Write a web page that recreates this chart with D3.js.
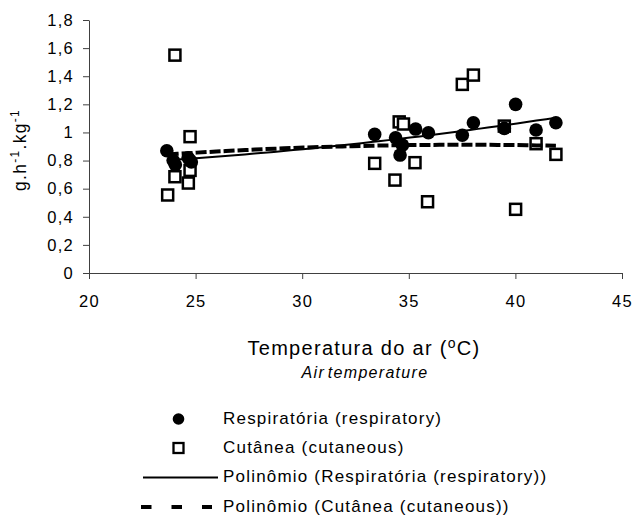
<!DOCTYPE html>
<html><head><meta charset="utf-8">
<script src="https://cdn.jsdelivr.net/npm/d3@7"></script>
<style>
body{margin:0;background:#fff}
svg text{font-family:"Liberation Sans",Arial,sans-serif;fill:#000}
</style>
</head><body>
<svg id="c" width="635" height="517"></svg>
<script>
// Respiratória (respiratory)
const respX = [23.65, 23.95, 24.05, 24.65, 24.8, 24.75, 33.4, 34.38, 34.7, 34.59, 35.32, 35.92, 37.51, 38.03, 39.48, 40.01, 40.97, 41.9];
const respY = [0.87, 0.80, 0.77, 0.82, 0.79, 0.80, 0.986, 0.962, 0.91, 0.839, 1.024, 0.998, 0.98, 1.069, 1.029, 1.20, 1.017, 1.069];
// Cutânea (cutaneous)
const cutX = [23.69, 24.03, 24.03, 24.66, 24.74, 24.74, 33.4, 34.35, 34.55, 34.75, 35.29, 35.88, 37.51, 38.03, 39.48, 40.01, 40.97, 41.9];
const cutY = [0.555, 1.55, 0.685, 0.64, 0.73, 0.97, 0.78, 0.661, 1.075, 1.06, 0.785, 0.507, 1.342, 1.408, 1.045, 0.453, 0.92, 0.844];

const xTicks = [20, 25, 30, 35, 40, 45];
const yTicks = [0, 0.2, 0.4, 0.6, 0.8, 1, 1.2, 1.4, 1.6, 1.8];
const yTickLabels = ["0", "0,2", "0,4", "0,6", "0,8", "1", "1,2", "1,4", "1,6", "1,8"];
const legendLabels = ["Respiratória (respiratory)", "Cutânea (cutaneous)", "Polinômio (Respiratória (respiratory))", "Polinômio (Cutânea (cutaneous))"];

const svg = d3.select("#c");
const x = d3.scaleLinear().domain([20, 45]).range([89, 622]);
const y = d3.scaleLinear().domain([0, 1.8]).range([273, 20]);
const axisColor = "#404040";

// quadratic least-squares fit (Excel "Polinômio" trend line, order 2)
function polyFit(xs, ys) {
  let S = [0,0,0,0,0], T = [0,0,0];
  xs.forEach((xv, i) => {
    let p = 1;
    for (let k = 0; k < 5; k++) { S[k] += p; if (k < 3) T[k] += p * ys[i]; p *= xv; }
  });
  const A = [[S[0],S[1],S[2],T[0]],[S[1],S[2],S[3],T[1]],[S[2],S[3],S[4],T[2]]];
  for (let i = 0; i < 3; i++) {
    for (let j = i + 1; j < 3; j++) {
      const f = A[j][i] / A[i][i];
      for (let k = i; k < 4; k++) A[j][k] -= f * A[i][k];
    }
  }
  const c = [0,0,0];
  for (let i = 2; i >= 0; i--) {
    let s = A[i][3];
    for (let k = i + 1; k < 3; k++) s -= A[i][k] * c[k];
    c[i] = s / A[i][i];
  }
  return v => c[0] + c[1] * v + c[2] * v * v;
}

// axes
const gx = svg.append("g").attr("transform", `translate(0,${y(0)})`)
  .call(d3.axisBottom(x).tickValues(xTicks).tickSize(6).tickSizeOuter(0).tickPadding(16).tickFormat(d => String(d)));
const gy = svg.append("g").attr("transform", `translate(${x(20)},0)`)
  .call(d3.axisLeft(y).tickValues(yTicks).tickSize(6).tickSizeOuter(0).tickPadding(9).tickFormat((d, i) => yTickLabels[i]));
[gx, gy].forEach(g => {
  g.selectAll("path,line").attr("stroke", axisColor).attr("stroke-width", 1);
  g.selectAll("text").attr("font-family", null).style("font-size", "16.5px").style("letter-spacing", "1.3px").attr("fill", "#000");
});

// markers: squares then circles
const sq = 11;
svg.append("g").selectAll("rect").data(cutX).join("rect")
  .attr("x", (d) => x(d) - sq / 2).attr("y", (d, i) => y(cutY[i]) - sq / 2)
  .attr("width", sq).attr("height", sq)
  .attr("fill", "#fff").attr("stroke", "#000").attr("stroke-width", 2.5);
svg.append("g").selectAll("circle").data(respX).join("circle")
  .attr("cx", d => x(d)).attr("cy", (d, i) => y(respY[i])).attr("r", 6.8).attr("fill", "#000");

// trend lines
function trend(xs, ys) {
  const f = polyFit(xs, ys);
  const lo = d3.min(xs), hi = d3.max(xs);
  return d3.range(0, 41).map(k => { const v = lo + (hi - lo) * k / 40; return [v, f(v)]; });
}
const line = d3.line().x(d => x(d[0])).y(d => y(d[1]));
svg.append("path").datum(trend(respX, respY)).attr("d", line)
  .attr("fill", "none").attr("stroke", "#000").attr("stroke-width", 2);
svg.append("path").datum(trend(cutX, cutY)).attr("d", line)
  .attr("fill", "none").attr("stroke", "#000").attr("stroke-width", 4).attr("stroke-dasharray", "11,3");

// y-axis title
const yt = svg.append("text").attr("transform", "translate(26,150) rotate(-90)")
  .attr("text-anchor", "middle").style("font-size", "17.5px").style("letter-spacing", "1.3px");
yt.append("tspan").text("g.h");
yt.append("tspan").attr("dy", -7).style("font-size", "12px").text("-1");
yt.append("tspan").attr("dy", 7).text(".kg");
yt.append("tspan").attr("dy", -7).style("font-size", "12px").text("-1");

// x-axis title
const xt = svg.append("text").attr("x", 364).attr("y", 355).attr("text-anchor", "middle")
  .style("font-size", "20px").style("letter-spacing", "1.3px");
xt.append("tspan").text("Temperatura do ar (");
xt.append("tspan").attr("dy", -7).style("font-size", "14px").text("o");
xt.append("tspan").attr("dy", 7).text("C)");
svg.append("text").attr("x", 365).attr("y", 378).attr("text-anchor", "middle")
  .style("font-size", "16px").style("font-style", "italic").style("letter-spacing", "1.3px").style("word-spacing", "-3px")
  .text("Air temperature");

// legend
const rowY = [424, 453, 482, 512];
const lg = svg.append("g");
lg.append("circle").attr("cx", 178.5).attr("cy", rowY[0] - 5).attr("r", 5.8).attr("fill", "#000");
lg.append("rect").attr("x", 173.5).attr("y", rowY[1] - 10).attr("width", 10).attr("height", 10)
  .attr("fill", "#fff").attr("stroke", "#000").attr("stroke-width", 2.3);
lg.append("line").attr("x1", 143).attr("x2", 218).attr("y1", rowY[2] - 4.5).attr("y2", rowY[2] - 4.5)
  .attr("stroke", "#000").attr("stroke-width", 2);
lg.append("line").attr("x1", 141).attr("x2", 212).attr("y1", rowY[3] - 5).attr("y2", rowY[3] - 5)
  .attr("stroke", "#000").attr("stroke-width", 4).attr("stroke-dasharray", "10.5,20");
lg.selectAll("text.l").data(legendLabels).join("text").attr("class", "l")
  .attr("x", 223).attr("y", (d, i) => rowY[i])
  .style("font-size", "17px").style("letter-spacing", "1.2px").text(d => d);
</script>
</body></html>
